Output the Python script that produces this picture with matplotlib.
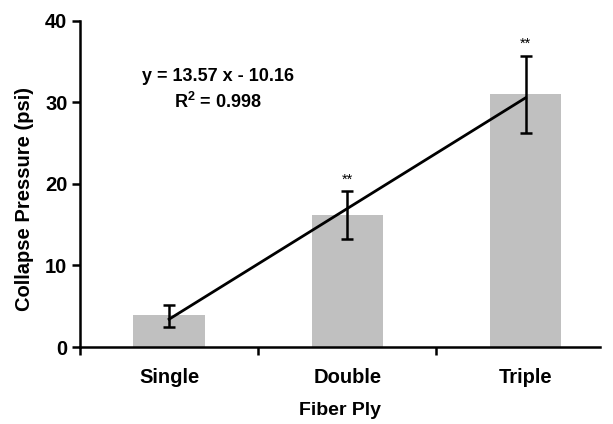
import matplotlib.pyplot as plt

plt.rcParams['font.family'] = ['Liberation Sans', 'DejaVu Sans']
plt.rcParams['mathtext.fontset'] = 'custom'
plt.rcParams['mathtext.bf'] = 'Liberation Sans:bold'

categories = ["Single", "Double", "Triple"]
pressure = [3.9, 16.2, 31.0]       # bar heights (psi)
err_center = [3.8, 16.2, 30.95]    # error bars sit on the fit value, not always the bar top
err_size = [1.3, 2.9, 4.75]
fit_x = [1, 3]
fit_y = [3.41, 30.55]              # y = 13.57 x - 10.16 at the ends
stars = ["", "**", "**"]
star_y = [0, 19.6, 36.3]

x = [1, 2, 3]

fig = plt.figure(figsize=(6.13, 4.24), dpi=100)
ax = fig.add_axes([0.1305, 0.1816, 0.849, 0.7695])

ax.bar(x, pressure, width=0.4, color="#c0c0c0", zorder=1)
ax.errorbar(x, err_center, yerr=err_size, fmt="none", ecolor="black",
            elinewidth=1.8, capsize=4, capthick=1.8, zorder=3)
ax.plot(fit_x, fit_y, color="black", linewidth=2.0, zorder=2)

for xi, s, sy in zip(x, stars, star_y):
    if s:
        ax.text(xi, sy, s, ha="center", va="bottom", fontsize=10.5)

ax.text(1.275, 31.5, "y = 13.57 x - 10.16\nR$^\\mathbf{2}$ = 0.998", ha="center", va="center",
        fontsize=13, fontweight="bold", linespacing=1.4)

ax.set_xlim(0.5, 3.42)
ax.set_ylim(0, 40)
ax.set_yticks([0, 10, 20, 30, 40])
ax.set_xticks(x)
ax.set_xticklabels(categories, fontsize=14.5, fontweight="bold")
ax.set_xticks([0.5, 1.5, 2.5], minor=True)
ax.tick_params(axis="x", which="major", length=0, pad=15)
ax.tick_params(axis="x", which="minor", length=6, width=1.8, direction="out")
ax.tick_params(axis="y", length=6, width=1.8, direction="out", labelsize=14.5, pad=3)
for lab in ax.get_yticklabels():
    lab.set_fontweight("bold")

ax.spines["top"].set_visible(False)
ax.spines["right"].set_visible(False)
ax.spines["left"].set_linewidth(1.8)
ax.spines["bottom"].set_linewidth(1.8)

ax.set_xlabel("Fiber Ply", fontsize=14, fontweight="bold", labelpad=11)
ax.set_ylabel("Collapse Pressure (psi)", fontsize=14.5, fontweight="bold")
ax.yaxis.set_label_coords(-0.088, 0.455)

fig.savefig("out.png", dpi=100)
